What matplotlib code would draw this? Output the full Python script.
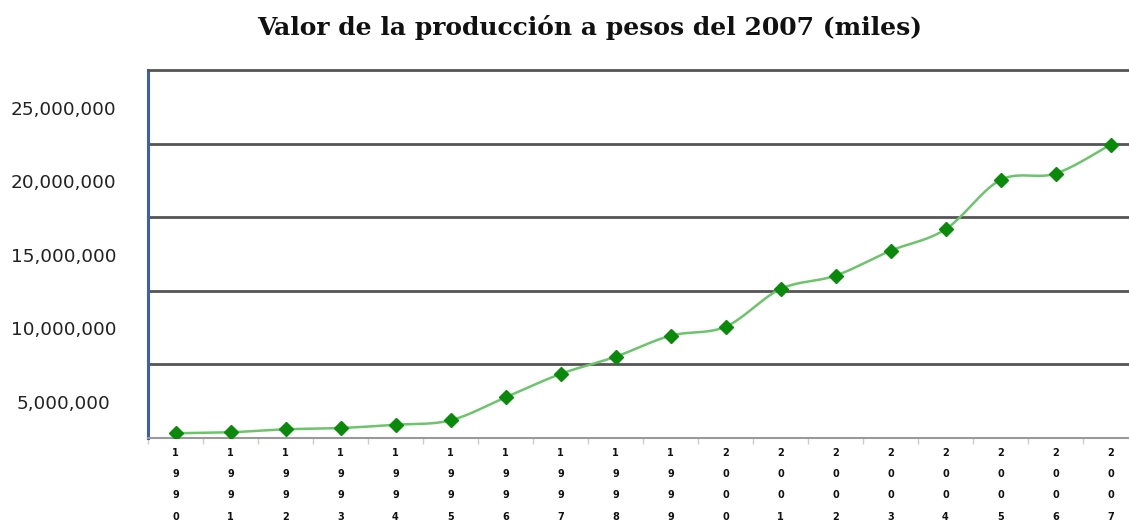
import numpy as np
import matplotlib
matplotlib.use("Agg")
import matplotlib.pyplot as plt
from matplotlib.ticker import FixedLocator

years = [1990, 1991, 1992, 1993, 1994, 1995, 1996, 1997, 1998, 1999,
         2000, 2001, 2002, 2003, 2004, 2005, 2006, 2007]
values = [320000, 390000, 590000, 680000, 900000, 1200000, 2760000, 4350000,
          5520000, 6950000, 7560000, 10120000, 11030000, 12720000, 14180000,
          17530000, 17960000, 19930000]
grid_levels = [5000000, 10000000, 15000000, 20000000]
ytick_labels = ["5,000,000", "10,000,000", "15,000,000", "20,000,000", "25,000,000"]
label_levels = [5000000, 10000000, 15000000, 20000000, 25000000]

title = "Valor de la producción a pesos del 2007 (miles)"

fig = plt.figure(figsize=(11.29, 5.27), dpi=100)
ax = fig.add_axes([148 / 1129, 89 / 527, 990 / 1129, 368 / 527])

x = np.arange(len(values), dtype=float)
y = np.array(values, dtype=float)

# Excel-style smoothed line (Catmull-Rom through the points)
P = np.column_stack([x, y])
Pext = np.vstack([P[0], P, P[-1]])
curve = []
t = np.linspace(0, 1, 20)[:, None]
for i in range(len(P) - 1):
    p0, p1, p2, p3 = Pext[i], Pext[i + 1], Pext[i + 2], Pext[i + 3]
    c1 = p1 + (p2 - p0) / 6.0
    c2 = p2 - (p3 - p1) / 6.0
    seg = ((1 - t) ** 3) * p1 + 3 * ((1 - t) ** 2) * t * c1 + 3 * (1 - t) * t ** 2 * c2 + t ** 3 * p2
    curve.append(seg)
curve = np.vstack(curve)

ax.plot(curve[:, 0], curve[:, 1], color="#6cc46c", lw=1.8, zorder=3,
        solid_capstyle="round")
ax.plot(x, y, linestyle="none", marker="D", markersize=7.5,
        color="#0a8a0a", markeredgecolor="#0a8a0a", zorder=4)

for g in grid_levels:
    ax.axhline(g, color="#555555", lw=2.0, zorder=1)

ax.set_xlim(-0.5, len(values) - 0.5)
ax.set_ylim(0, 25000000)

# spines
ax.spines["right"].set_visible(False)
ax.spines["top"].set_color("#555555")
ax.spines["top"].set_linewidth(2.0)
ax.spines["left"].set_color("#3f5fa8")
ax.spines["left"].set_linewidth(2.2)
ax.spines["bottom"].set_color("#999999")
ax.spines["bottom"].set_linewidth(1.5)

# y tick labels (drawn offset below their gridlines, as in the reference)
offset = 2560000
ax.yaxis.set_major_locator(FixedLocator([v - offset for v in label_levels]))
ax.set_yticklabels(ytick_labels)
ax.tick_params(axis="y", length=0, pad=61, labelsize=13.3, labelcolor="#222222")
for lab in ax.get_yticklabels():
    lab.set_horizontalalignment("center")
    lab.set_family("DejaVu Sans")

# x tick labels as stacked digits
ax.set_xticks(x)
ax.set_xticklabels(["\n".join(str(yr)) for yr in years])
ax.tick_params(axis="x", which="major", length=0, pad=7, labelsize=7,
               labelcolor="#111111")
for lab in ax.get_xticklabels():
    lab.set_fontweight("bold")
    lab.set_linespacing(2.42)
ax.set_xticks(np.arange(len(values) + 1) - 0.5, minor=True)
ax.tick_params(axis="x", which="minor", length=4, color="#cccccc", width=1)

fig.text(590 / 1129, 1 - 28 / 527, title, ha="center", va="center",
         fontsize=18, fontweight="bold", family="DejaVu Serif", color="#111111")

fig.savefig("out.png", dpi=100, facecolor="white")
